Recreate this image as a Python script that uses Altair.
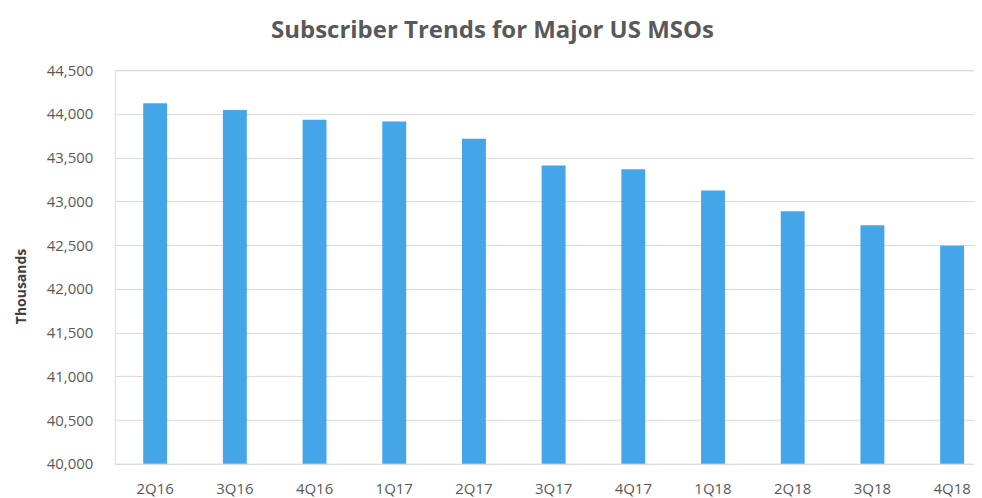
import altair as alt
import pandas as pd

quarters = ["2Q16", "3Q16", "4Q16", "1Q17", "2Q17", "3Q17", "4Q17", "1Q18", "2Q18", "3Q18", "4Q18"]
subscribers = [44121, 44046, 43932, 43912, 43715, 43409, 43367, 43125, 42886, 42726, 42492]
y_ticks = [40000, 40500, 41000, 41500, 42000, 42500, 43000, 43500, 44000, 44500]

df = pd.DataFrame({"quarter": quarters, "subs": subscribers})

font = "Open Sans"

chart = alt.Chart(df).mark_bar(color="#44A6E9", clip=True).encode(
    x=alt.X("quarter:N", sort=quarters,
            scale=alt.Scale(paddingInner=0.7, paddingOuter=0.24, align=0.74),
            axis=alt.Axis(title=None, labelAngle=0, ticks=False, domain=False,
                          labelFont=font, labelFontSize=15, labelColor="#595959",
                          labelPadding=18)),
    y=alt.Y("subs:Q", scale=alt.Scale(domain=[40000, 44500], nice=False, zero=False),
            axis=alt.Axis(title="Thousands", values=y_ticks, format=",.0f", ticks=False, domain=False,
                          labelFont=font, labelFontSize=15, labelColor="#595959", labelPadding=22,
                          gridColor="#d9d9d9", gridWidth=1,
                          titleFont=font, titleFontSize=14, titleFontWeight="bold", titleColor="#404040",
                          titleX=-93, titleY=216, titleAngle=-90, titleAlign="center",
                          titleBaseline="middle")),
).properties(
    width=860,
    height=394,
    title=alt.TitleParams("Subscriber Trends for Major US MSOs", font=font, fontSize=24,
                          fontWeight="bold", color="#595959", anchor="middle", dx=-52, offset=20),
    autosize=alt.AutoSizeParams(type="none"),
    padding={"left": 107, "top": 62, "right": 0, "bottom": 34},
).configure_view(stroke=None).configure(background="white")

chart.save("out.html", embed_options={"renderer": "svg", "actions": False})
